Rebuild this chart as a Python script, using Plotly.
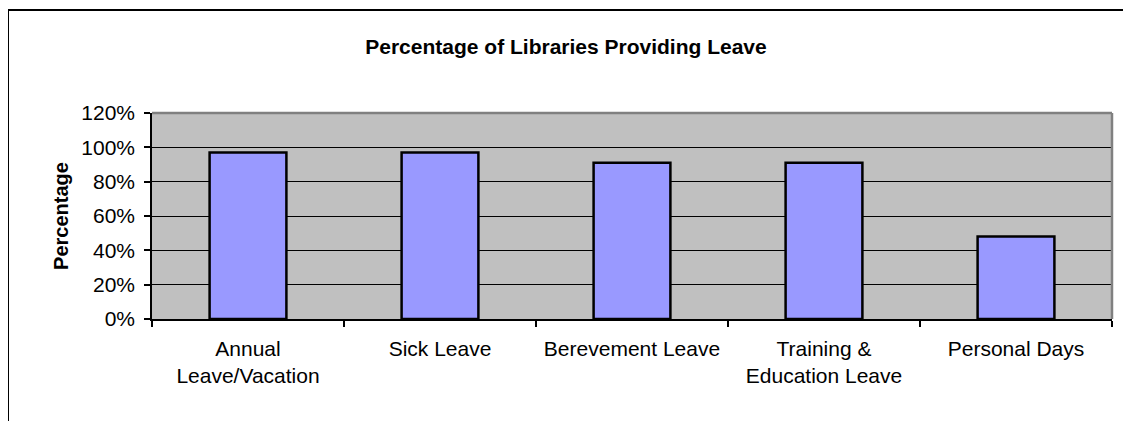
import plotly.graph_objects as go

categories = ["Annual<br>Leave/Vacation", "Sick Leave", "Berevement Leave",
              "Training &<br>Education Leave", "Personal Days"]
values = [0.97, 0.97, 0.91, 0.91, 0.48]
y_ticks = [0, 0.2, 0.4, 0.6, 0.8, 1.0, 1.2]
y_ticklabels = ["0%", "20%", "40%", "60%", "80%", "100%", "120%"]
title_text = "Percentage of Libraries Providing Leave"
y_title = "Percentage"

OFF = 8  # page body margin
W, H = 1131 - OFF, 421 - OFF
# target page coordinates of plot area
L, R, T, B = 152 - OFF, 1112 - OFF, 113 - OFF, 319 - OFF
FONT = "Liberation Sans, Arial, sans-serif"

def px_x(x):
    return (x - OFF - L) / (R - L)

def px_y(y):
    return (B - (y - OFF)) / (B - T)

fig = go.Figure()
fig.add_trace(go.Bar(
    x=categories, y=values,
    marker=dict(color="#9999FF", line=dict(color="#000000", width=2.5)),
    width=0.4,
))

fig.update_layout(
    width=W, height=H,
    margin=dict(l=L, r=W - R, t=T, b=H - B, pad=0),
    paper_bgcolor="#FFFFFF",
    plot_bgcolor="#C0C0C0",
    showlegend=False,
    font=dict(family=FONT, size=21, color="#000000"),
    title=dict(text="<b>" + title_text + "</b>", x=px_x(566), xref="paper",
               xanchor="center", y=1 - (47 - OFF) / H, yref="container", yanchor="middle",
               font=dict(family=FONT, size=21, color="#000000")),
    bargap=0.6,
)

fig.update_xaxes(
    type="category",
    tickson="boundaries",
    ticks="outside", ticklen=6, tickwidth=1.5, tickcolor="#000000",
    showline=True, linecolor="#000000", linewidth=1.5,
    showgrid=False, zeroline=False,
    tickfont=dict(family=FONT, size=21, color="#000000"),
    ticklabelstandoff=10,
)
fig.update_yaxes(
    range=[0, 1.2],
    tickvals=y_ticks, ticktext=y_ticklabels,
    ticks="outside", ticklen=6, tickwidth=1.5, tickcolor="#000000",
    showline=True, linecolor="#000000", linewidth=1.5,
    showgrid=True, gridcolor="#000000", gridwidth=1,
    zeroline=False,
    tickfont=dict(family=FONT, size=21, color="#000000"),
    ticklabelstandoff=5,
    title=dict(text="<b>" + y_title + "</b>", standoff=7,
               font=dict(family=FONT, size=20, color="#000000")),
)

# plot area frame (gray top and right)
fig.add_shape(type="line", xref="paper", yref="paper", x0=0, x1=1, y0=1, y1=1,
              line=dict(color="#808080", width=2.5))
fig.add_shape(type="line", xref="paper", yref="paper", x0=1, x1=1, y0=0, y1=1,
              line=dict(color="#808080", width=2.5))
# outer chart frame (extends beyond the visible page on right and bottom)
fig.add_shape(type="rect", xref="paper", yref="paper",
              x0=px_x(8), x1=px_x(1180), y0=px_y(470), y1=px_y(10),
              line=dict(color="#000000", width=2), fillcolor="rgba(0,0,0,0)",
              layer="below")

fig.write_html("out.html")
